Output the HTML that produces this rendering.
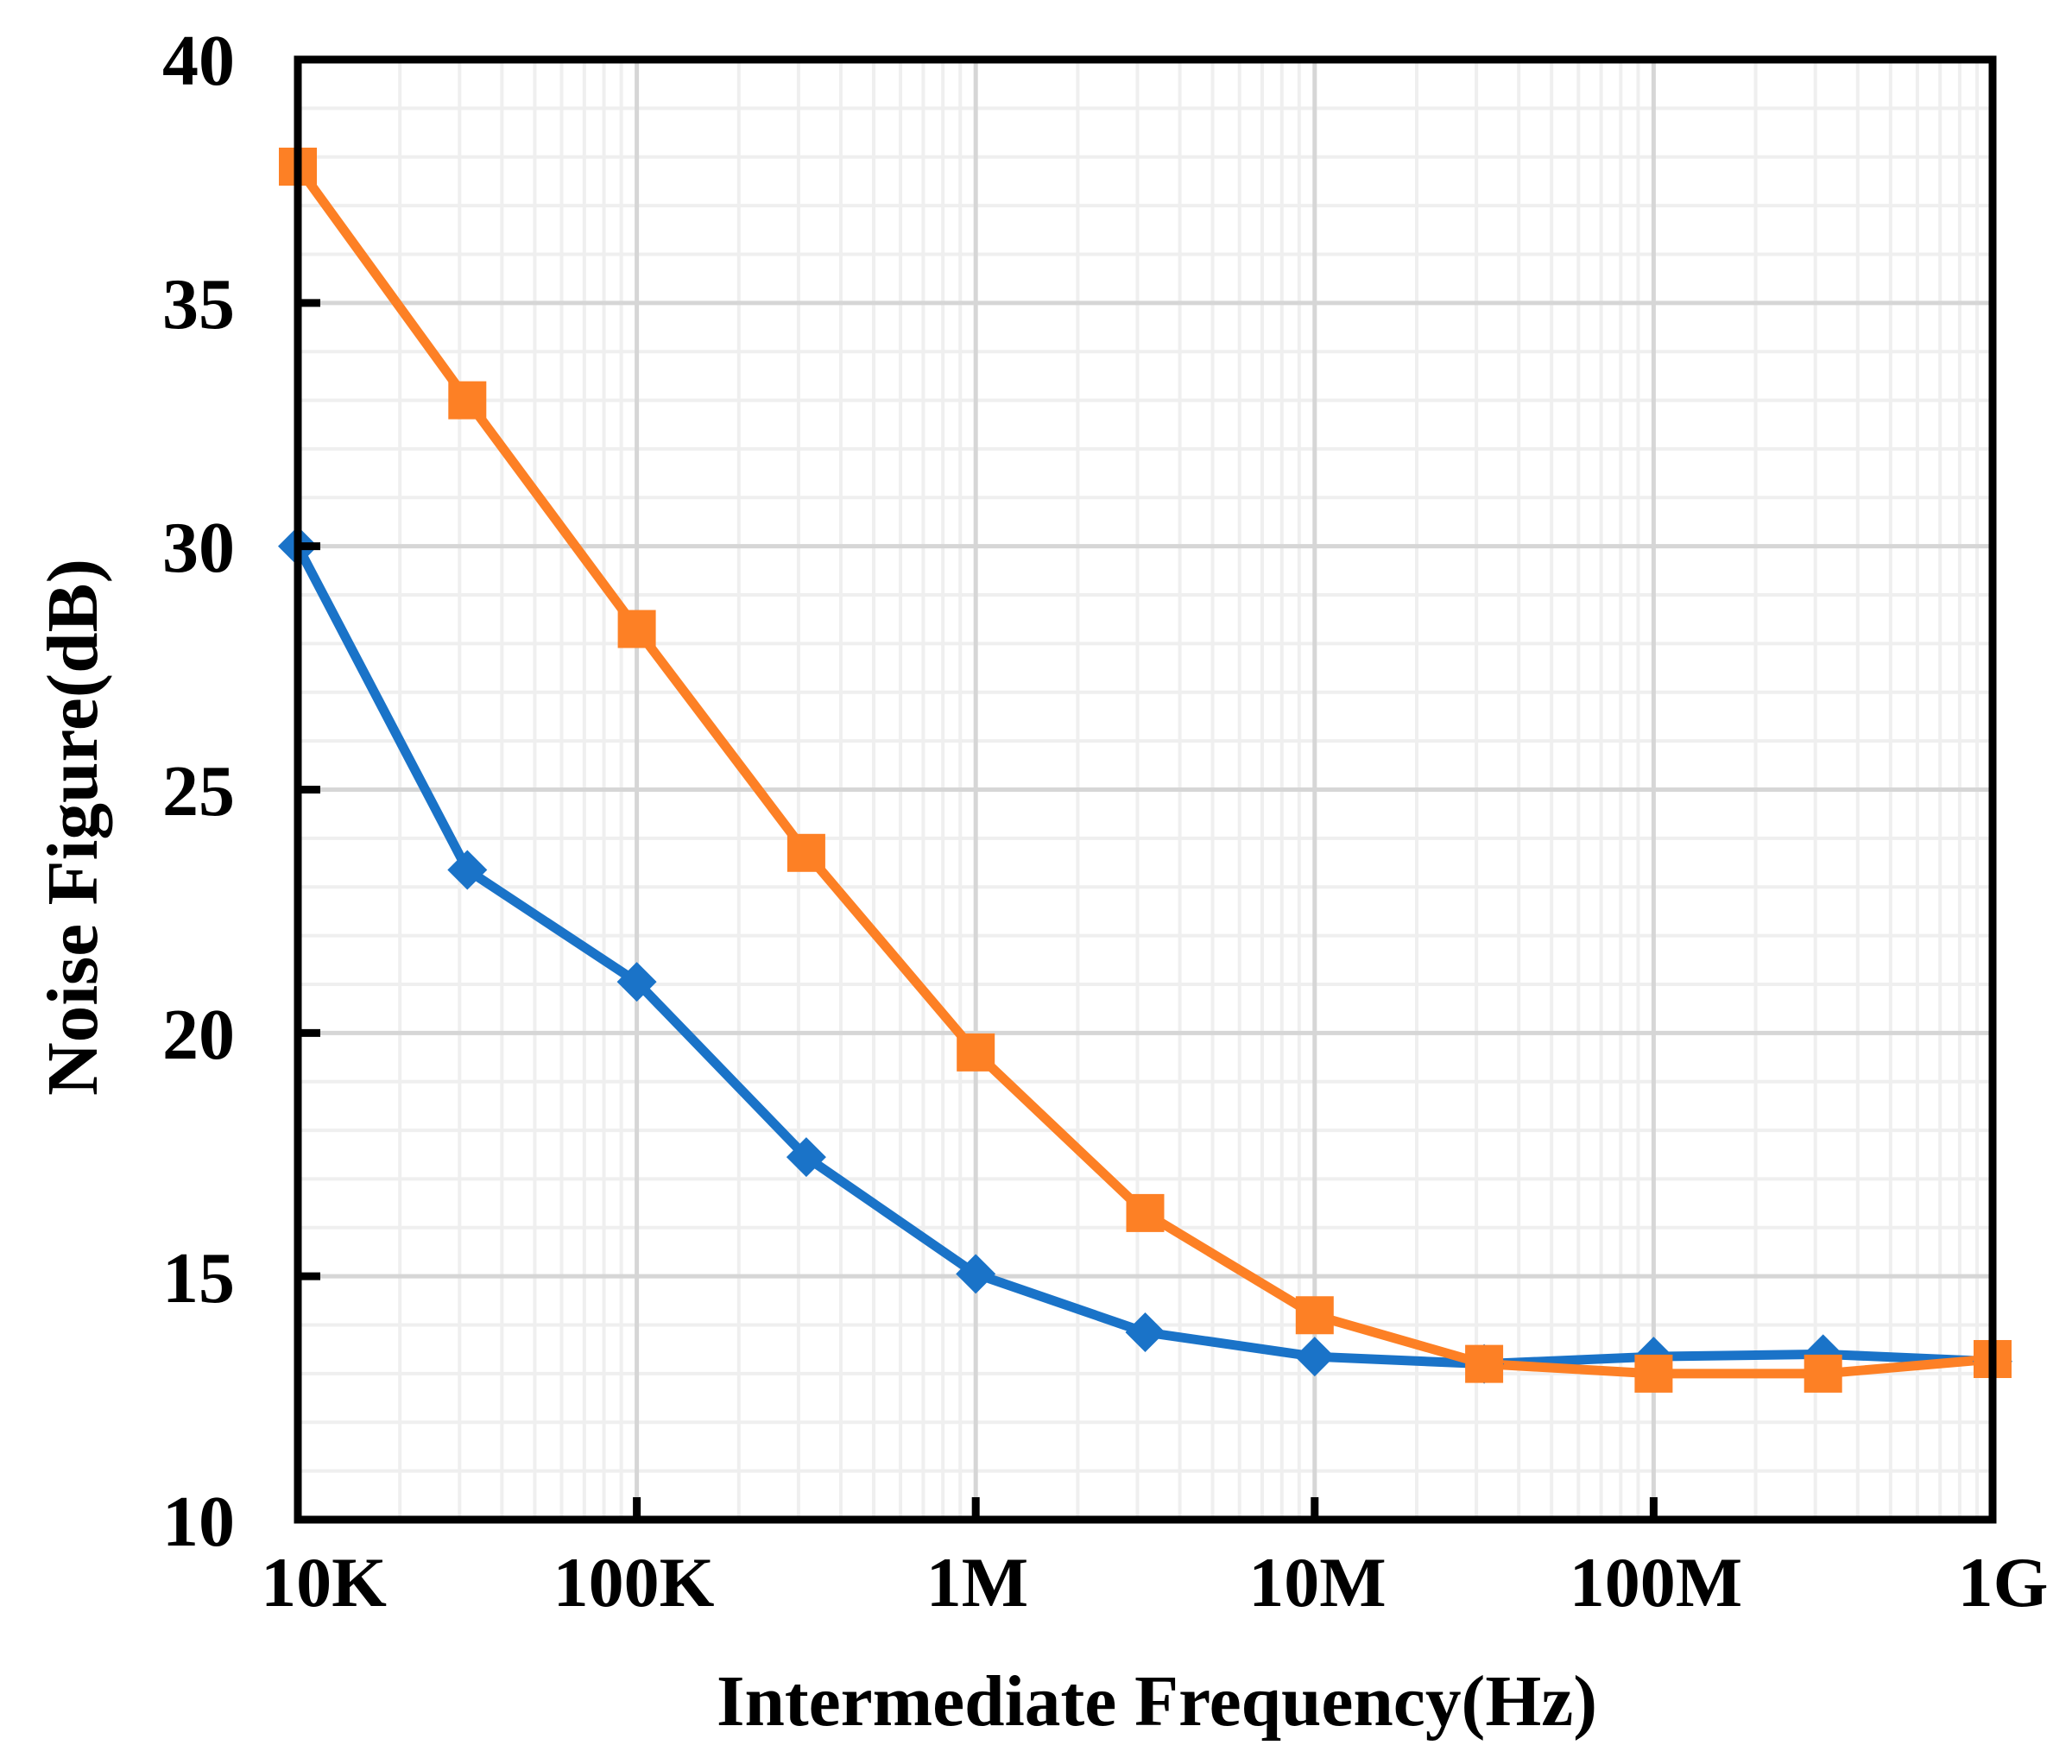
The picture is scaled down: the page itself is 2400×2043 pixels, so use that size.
<!DOCTYPE html>
<html><head><meta charset="utf-8"><style>
html,body{margin:0;padding:0;background:#fff;}
svg{display:block;}
text{font-family:"Liberation Serif",serif;font-weight:bold;fill:#000;}
</style></head><body>
<svg id="s" width="2400" height="2043" viewBox="0 0 2400 2043" xmlns="http://www.w3.org/2000/svg">
<g id="grid"></g>
<g id="series"></g>
<rect x="345" y="69" width="1963" height="1691" fill="none" stroke="#000" stroke-width="9"/>
<g id="ticks"></g>
<g font-size="84" text-anchor="end">
<text x="272" y="98">40</text>
<text x="272" y="380">35</text>
<text x="272" y="662">30</text>
<text x="272" y="944">25</text>
<text x="272" y="1226">20</text>
<text x="272" y="1508">15</text>
<text x="272" y="1790">10</text>
</g>
<g font-size="82" text-anchor="middle">
<text x="375" y="1860">10K</text>
<text x="734" y="1860">100K</text>
<text x="1132" y="1860">1M</text>
<text x="1526" y="1860">10M</text>
<text x="1918" y="1860">100M</text>
<text x="2320" y="1860">1G</text>
</g>
<text x="1340" y="1998" font-size="84" text-anchor="middle" textLength="1020" lengthAdjust="spacingAndGlyphs">Intermediate Frequency(Hz)</text>
<text transform="translate(112,958) rotate(-90)" font-size="84" text-anchor="middle" textLength="622" lengthAdjust="spacingAndGlyphs">Noise Figure(dB)</text>
</svg>
<script>
var NS="http://www.w3.org/2000/svg";
var L=345,R=2308,T=69,B=1760,dec=(R-L)/5;
function X(f){return L+Math.log10(f/1e4)*dec;}
function Y(v){return B-(v-10)*(B-T)/30;}
function el(p,n,a){var e=document.createElementNS(NS,n);for(var k in a)e.setAttribute(k,a[k]);p.appendChild(e);return e;}
var g=document.getElementById('grid');
for(var v=11;v<40;v++){if(v%5)el(g,'line',{x1:L,x2:R,y1:Y(v),y2:Y(v),stroke:'#efefef','stroke-width':4});}
for(var d=0;d<5;d++){for(var m=2;m<10;m++){var x=X(1e4*Math.pow(10,d)*m);el(g,'line',{x1:x,x2:x,y1:T,y2:B,stroke:'#efefef','stroke-width':4});}}
for(var v=15;v<40;v+=5)el(g,'line',{x1:L,x2:R,y1:Y(v),y2:Y(v),stroke:'#d6d6d6','stroke-width':5});
for(var d=1;d<5;d++){var x=X(1e4*Math.pow(10,d));el(g,'line',{x1:x,x2:x,y1:T,y2:B,stroke:'#d6d6d6','stroke-width':5});}
var t=document.getElementById('ticks');
for(var v=15;v<40;v+=5)el(t,'line',{x1:L,x2:L+26,y1:Y(v),y2:Y(v),stroke:'#000','stroke-width':9});
for(var d=1;d<5;d++){var x=X(1e4*Math.pow(10,d));el(t,'line',{x1:x,x2:x,y1:B,y2:B-26,stroke:'#000','stroke-width':9});}
var blue=[30,23.35,21.05,17.45,15.05,13.85,13.35,13.2,13.35,13.4,13.25];
var org=[37.8,33,28.3,23.7,19.6,16.3,14.2,13.2,13.0,13.0,13.3];
var s=document.getElementById('series');
function pts(a){return a.map(function(v,i){return X(1e4*Math.pow(10,i/2))+','+Y(v);}).join(' ');}
el(s,'polyline',{points:pts(blue),fill:'none',stroke:'#1a73c8','stroke-width':11,'stroke-linejoin':'round'});
el(s,'polyline',{points:pts(org),fill:'none',stroke:'#fd8025','stroke-width':11,'stroke-linejoin':'round'});
blue.forEach(function(v,i){var x=X(1e4*Math.pow(10,i/2)),y=Y(v),r=23;el(s,'polygon',{points:(x)+','+(y-r)+' '+(x+r)+','+y+' '+x+','+(y+r)+' '+(x-r)+','+y,fill:'#1a73c8'});});
org.forEach(function(v,i){var x=X(1e4*Math.pow(10,i/2)),y=Y(v);el(s,'rect',{x:x-22,y:y-22,width:44,height:44,fill:'#fd8025'});});
</script>
</body></html>
